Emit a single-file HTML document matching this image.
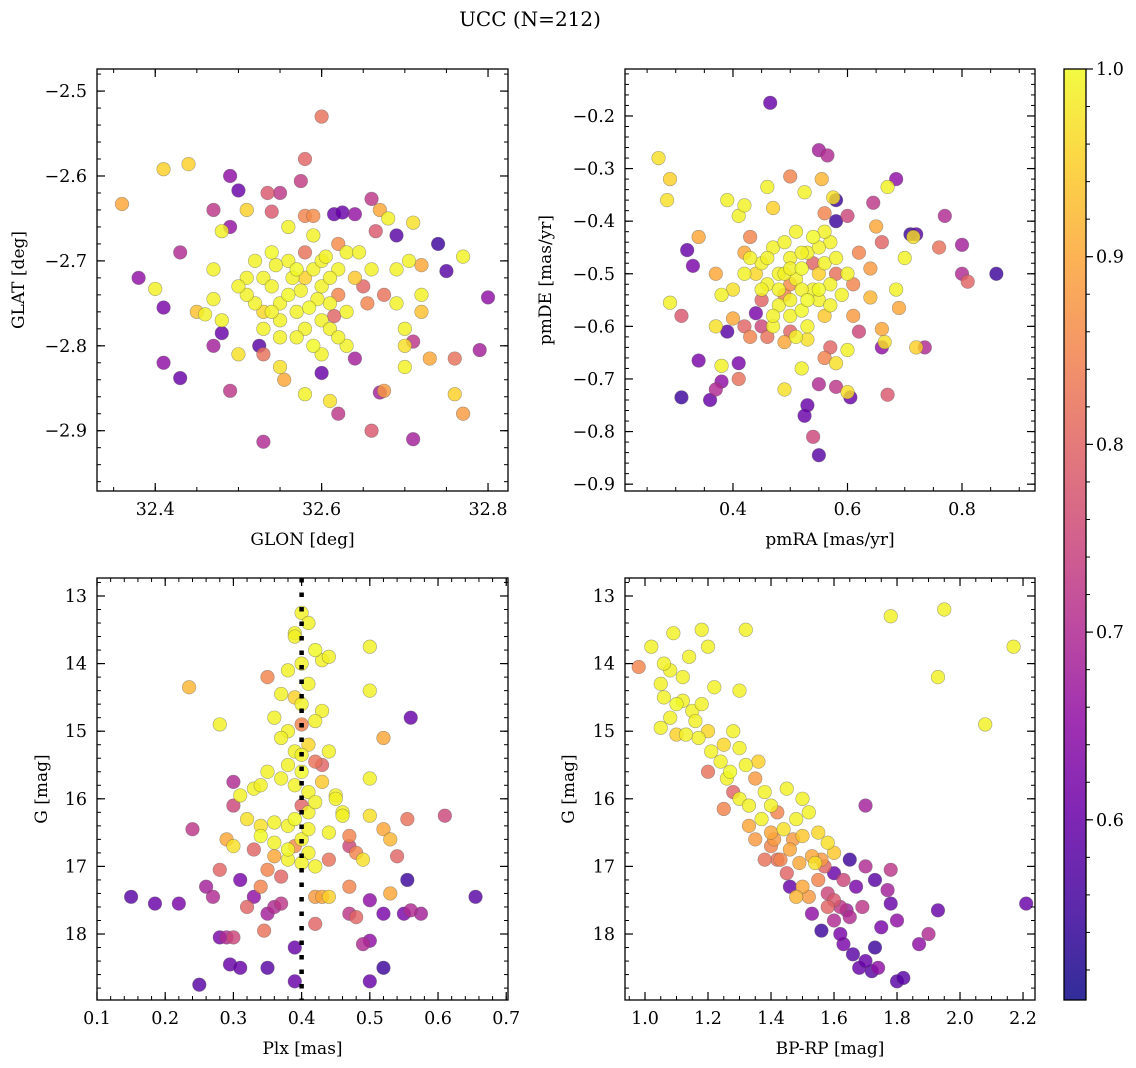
<!DOCTYPE html>
<html><head><meta charset="utf-8">
<style>
html,body{margin:0;padding:0;background:#fff;}
svg{display:block;font-family:"DejaVu Serif","Liberation Serif",serif;}
</style></head>
<body>
<svg id="fig" width="1136" height="1068" viewBox="0 0 1136 1068" xmlns="http://www.w3.org/2000/svg">
<text x="530" y="26" font-size="20" text-anchor="middle">UCC (N=212)</text>
<defs>
<linearGradient id="plasma" x1="0" y1="1" x2="0" y2="0">
<stop offset="0" stop-color="#0d0887"/><stop offset="0.1" stop-color="#41049d"/><stop offset="0.2" stop-color="#6a00a8"/><stop offset="0.3" stop-color="#8f0da4"/><stop offset="0.4" stop-color="#b12a90"/><stop offset="0.5" stop-color="#cc4778"/><stop offset="0.6" stop-color="#e16462"/><stop offset="0.7" stop-color="#f2844b"/><stop offset="0.8" stop-color="#fca636"/><stop offset="0.9" stop-color="#fcce25"/><stop offset="1" stop-color="#f0f921"/>
</linearGradient>
</defs>
</svg>
<script>
// ---- Panel 1: GLON vs GLAT [x, y, prob]
const glonGlat=[
[32.36,-2.633,0.9],[32.41,-2.592,0.95],[32.44,-2.586,0.95],[32.38,-2.72,0.65],[32.41,-2.82,0.65],[32.43,-2.838,0.6],[32.41,-2.755,0.62],[32.43,-2.69,0.7],[32.40,-2.733,0.99],
[32.49,-2.6,0.65],[32.5,-2.617,0.6],[32.47,-2.64,0.72],[32.49,-2.66,0.66],[32.535,-2.62,0.78],[32.55,-2.62,0.72],[32.575,-2.606,0.73],[32.58,-2.58,0.8],[32.6,-2.53,0.82],
[32.51,-2.64,0.95],[32.48,-2.665,0.99],[32.54,-2.642,0.78],[32.58,-2.647,0.85],[32.59,-2.647,0.86],[32.615,-2.645,0.6],[32.625,-2.643,0.6],[32.64,-2.645,0.66],
[32.66,-2.627,0.72],[32.665,-2.665,0.78],[32.67,-2.64,0.9],[32.69,-2.67,0.58],[32.71,-2.655,0.97],[32.68,-2.65,0.99],[32.74,-2.68,0.55],[32.75,-2.712,0.58],[32.77,-2.695,0.99],
[32.8,-2.743,0.65],[32.79,-2.805,0.68],[32.76,-2.815,0.82],[32.76,-2.857,0.95],[32.77,-2.88,0.88],[32.71,-2.91,0.68],[32.66,-2.9,0.78],[32.62,-2.88,0.72],[32.61,-2.865,0.97],
[32.53,-2.913,0.7],[32.49,-2.853,0.72],[32.5,-2.81,0.97],[32.47,-2.8,0.68],[32.48,-2.785,0.6],[32.525,-2.8,0.58],[32.53,-2.81,0.82],[32.55,-2.825,0.97],[32.555,-2.84,0.9],
[32.6,-2.832,0.6],[32.64,-2.815,0.68],[32.63,-2.8,0.99],[32.67,-2.855,0.68],[32.675,-2.853,0.88],[32.58,-2.857,0.99],[32.7,-2.78,0.99],[32.71,-2.795,0.72],[32.7,-2.8,0.97],
[32.72,-2.74,0.99],[32.72,-2.76,0.93],[32.7,-2.825,0.99],[32.73,-2.815,0.9],[32.69,-2.71,0.99],[32.72,-2.705,0.9],[32.705,-2.7,0.99],[32.675,-2.74,0.82],[32.66,-2.71,0.99],[32.69,-2.75,0.99],
[32.47,-2.71,0.99],[32.47,-2.745,0.99],[32.45,-2.76,0.93],[32.48,-2.77,0.99],[32.46,-2.763,0.99],
[32.52,-2.7,0.99],[32.53,-2.72,0.99],[32.54,-2.73,0.99],[32.55,-2.75,0.99],[32.56,-2.74,1.0],[32.57,-2.76,0.99],[32.58,-2.72,0.95],[32.59,-2.71,0.99],[32.6,-2.73,0.99],[32.61,-2.75,0.99],
[32.62,-2.74,0.85],[32.6,-2.77,0.99],[32.58,-2.78,0.99],[32.55,-2.77,0.99],[32.53,-2.76,0.96],[32.52,-2.75,0.99],[32.51,-2.74,0.99],[32.54,-2.69,1.0],[32.56,-2.7,0.99],[32.58,-2.69,0.82],
[32.6,-2.7,0.99],[32.62,-2.71,0.99],[32.63,-2.69,0.99],[32.64,-2.72,0.94],[32.65,-2.73,0.8],[32.63,-2.76,0.99],[32.61,-2.78,0.99],[32.59,-2.8,1.0],[32.57,-2.79,0.99],[32.55,-2.79,0.99],
[32.53,-2.78,0.99],[32.51,-2.72,0.99],[32.56,-2.66,0.99],[32.59,-2.67,0.99],[32.62,-2.68,0.86],[32.645,-2.69,0.99],[32.57,-2.71,1.0],[32.595,-2.745,0.99],[32.575,-2.735,0.99],[32.565,-2.72,0.99],
[32.545,-2.705,0.99],[32.605,-2.695,0.99],[32.615,-2.765,0.8],[32.62,-2.79,0.99],[32.54,-2.76,0.99],[32.5,-2.73,0.99],[32.655,-2.75,0.85],[32.6,-2.81,0.99],[32.61,-2.72,0.99],[32.585,-2.755,1.0]
];
// ---- Panel 2: pmRA vs pmDE
const pmraPmde=[
[0.465,-0.175,0.6],[0.55,-0.265,0.68],[0.565,-0.275,0.7],[0.27,-0.28,0.97],[0.29,-0.32,0.95],[0.285,-0.36,0.97],[0.5,-0.315,0.85],[0.555,-0.32,0.92],[0.58,-0.36,0.55],[0.575,-0.355,0.97],
[0.525,-0.345,0.99],[0.46,-0.335,0.99],[0.645,-0.365,0.72],[0.67,-0.335,0.99],[0.685,-0.32,0.65],[0.77,-0.39,0.7],[0.6,-0.39,0.75],[0.58,-0.4,0.55],[0.56,-0.385,0.85],[0.39,-0.36,0.99],
[0.41,-0.39,0.99],[0.42,-0.37,0.99],[0.47,-0.375,0.95],[0.32,-0.455,0.6],[0.33,-0.485,0.62],[0.34,-0.43,0.9],[0.29,-0.555,0.99],[0.31,-0.58,0.78],[0.31,-0.735,0.55],[0.34,-0.665,0.62],
[0.36,-0.74,0.6],[0.37,-0.72,0.7],[0.38,-0.705,0.65],[0.39,-0.61,0.58],[0.41,-0.67,0.62],[0.41,-0.7,0.82],[0.38,-0.675,0.99],[0.37,-0.6,0.97],[0.49,-0.72,0.97],[0.53,-0.75,0.6],
[0.525,-0.77,0.6],[0.54,-0.81,0.75],[0.55,-0.845,0.58],[0.55,-0.71,0.7],[0.58,-0.715,0.72],[0.6,-0.725,0.97],[0.605,-0.735,0.6],[0.67,-0.73,0.78],[0.66,-0.64,0.65],[0.735,-0.64,0.7],
[0.72,-0.64,0.95],[0.69,-0.565,0.9],[0.685,-0.53,0.99],[0.7,-0.47,0.99],[0.71,-0.425,0.55],[0.72,-0.425,0.58],[0.715,-0.43,0.97],[0.76,-0.45,0.82],[0.8,-0.445,0.68],[0.8,-0.5,0.7],
[0.81,-0.515,0.8],[0.86,-0.5,0.55],[0.66,-0.44,0.8],[0.65,-0.41,0.9],[0.64,-0.49,0.88],[0.64,-0.545,0.92],[0.62,-0.46,0.85],[0.62,-0.61,0.75],[0.66,-0.605,0.9],[0.665,-0.63,0.97],
[0.61,-0.58,0.88],[0.6,-0.645,0.99],[0.43,-0.43,0.85],[0.42,-0.46,0.9],[0.4,-0.53,0.97],[0.4,-0.585,0.9],[0.42,-0.6,0.8],[0.43,-0.62,0.85],[0.44,-0.575,0.62],[0.37,-0.5,0.9],
[0.38,-0.54,0.99],[0.45,-0.6,0.75],[0.46,-0.62,0.82],[0.49,-0.63,0.9],[0.5,-0.61,0.8],[0.53,-0.625,0.97],[0.56,-0.66,0.85],[0.52,-0.68,0.99],[0.58,-0.67,0.97],[0.57,-0.64,0.8],
[0.45,-0.48,0.99],[0.47,-0.45,0.99],[0.48,-0.5,0.99],[0.5,-0.47,0.99],[0.52,-0.49,1.0],[0.53,-0.46,0.99],[0.55,-0.5,0.95],[0.56,-0.48,0.99],[0.58,-0.47,0.99],[0.46,-0.52,0.99],
[0.49,-0.54,0.85],[0.51,-0.51,0.99],[0.54,-0.53,0.99],[0.57,-0.52,0.99],[0.44,-0.5,0.96],[0.48,-0.56,0.99],[0.5,-0.55,0.99],[0.52,-0.57,1.0],[0.55,-0.55,0.99],[0.58,-0.5,0.82],
[0.47,-0.6,0.99],[0.5,-0.58,0.99],[0.53,-0.6,0.99],[0.56,-0.58,0.94],[0.45,-0.55,0.8],[0.49,-0.44,0.99],[0.51,-0.42,0.99],[0.54,-0.43,1.0],[0.57,-0.44,0.99],[0.6,-0.5,0.99],
[0.43,-0.47,0.99],[0.46,-0.47,0.99],[0.52,-0.53,0.99],[0.55,-0.45,0.99],[0.5,-0.52,0.86],[0.48,-0.53,0.99],[0.53,-0.55,1.0],[0.59,-0.54,0.99],[0.42,-0.5,0.99],[0.56,-0.42,0.99],
[0.51,-0.62,0.99],[0.47,-0.58,0.99],[0.54,-0.48,0.8],[0.49,-0.5,0.99],[0.57,-0.56,0.99],[0.45,-0.53,0.99],[0.61,-0.52,0.85],[0.52,-0.46,0.99],[0.5,-0.49,0.99],[0.55,-0.53,1.0]
];
// ---- Panel 3: Plx vs G
const plxG=[
[0.15,17.45,0.58],[0.185,17.55,0.6],[0.22,17.55,0.62],[0.24,16.45,0.72],[0.235,14.35,0.92],[0.25,18.75,0.58],[0.26,17.3,0.68],[0.27,17.45,0.7],[0.28,17.05,0.8],[0.28,14.9,0.99],
[0.28,18.05,0.62],[0.29,18.05,0.7],[0.3,18.05,0.75],[0.295,18.45,0.6],[0.31,18.5,0.6],[0.35,18.5,0.58],[0.31,17.2,0.62],[0.32,17.6,0.8],[0.33,17.45,0.65],[0.35,17.7,0.68],
[0.36,17.6,0.7],[0.345,17.95,0.82],[0.37,17.55,0.72],[0.39,18.2,0.6],[0.39,18.7,0.6],[0.42,17.45,0.88],[0.42,17.85,0.8],[0.44,17.45,0.95],[0.47,17.3,0.85],[0.47,17.7,0.72],
[0.48,17.75,0.8],[0.49,18.15,0.7],[0.5,18.1,0.65],[0.5,18.7,0.6],[0.52,18.5,0.55],[0.52,17.7,0.62],[0.5,17.5,0.65],[0.53,17.4,0.9],[0.55,17.7,0.62],[0.56,17.65,0.7],
[0.575,17.7,0.68],[0.555,17.2,0.55],[0.56,14.8,0.6],[0.61,16.25,0.75],[0.655,17.45,0.58],[0.555,16.3,0.82],[0.54,16.85,0.8],[0.53,16.6,0.92],[0.52,16.45,0.9],[0.5,16.25,0.97],
[0.47,16.55,0.85],[0.48,16.8,0.85],[0.49,16.9,0.97],[0.46,16.2,0.99],[0.5,15.7,0.99],[0.52,15.1,0.9],[0.5,14.4,0.99],[0.5,13.75,0.99],[0.43,13.95,0.99],[0.44,13.9,0.99],
[0.47,16.7,0.75],[0.44,16.9,0.82],[0.43,17.45,0.9],[0.33,16.75,0.8],[0.32,16.3,0.97],[0.3,16.1,0.75],[0.3,15.75,0.7],[0.31,15.95,0.99],[0.33,15.85,0.99],[0.29,16.6,0.9],
[0.3,16.7,0.97],[0.34,16.4,0.97],[0.36,16.85,0.9],[0.35,17.05,0.85],[0.34,17.3,0.85],[0.37,17.15,0.8],[0.36,16.65,0.99],[0.34,15.8,0.99],
[0.4,13.25,0.99],[0.39,13.55,0.99],[0.41,13.4,0.99],[0.38,14.1,0.99],[0.42,13.8,1.0],[0.4,14.0,0.99],[0.39,14.5,0.95],[0.41,14.3,0.99],[0.37,14.45,0.99],[0.43,14.7,0.99],
[0.4,14.9,0.85],[0.38,15.0,0.99],[0.42,14.85,0.99],[0.39,15.3,0.99],[0.41,15.2,0.96],[0.36,14.8,0.99],[0.44,15.3,0.99],[0.4,15.6,1.0],[0.38,15.5,0.99],[0.42,15.45,0.82],
[0.39,15.8,0.99],[0.41,15.9,0.99],[0.37,15.7,0.99],[0.43,15.75,0.94],[0.4,16.1,0.8],[0.35,15.6,0.99],[0.45,15.95,0.99],[0.39,16.3,1.0],[0.41,16.2,0.99],[0.38,16.4,0.99],
[0.42,16.05,0.99],[0.4,16.6,0.99],[0.36,16.35,0.99],[0.44,16.5,0.99],[0.39,16.7,0.86],[0.41,16.8,0.99],[0.34,16.55,1.0],[0.46,16.25,0.99],[0.4,16.95,0.99],[0.38,16.9,0.99],
[0.42,17.0,0.99],[0.37,15.1,0.99],[0.43,15.5,0.8],[0.4,14.6,0.99],[0.39,13.6,0.99],[0.41,16.45,0.99],[0.35,14.2,0.85],[0.45,16.0,0.99],[0.4,15.35,0.99],[0.38,16.75,1.0]
];
// ---- Panel 4: BP-RP vs G
const bprpG=[
[1.02,13.75,0.99],[1.05,14.3,0.99],[1.06,14.5,0.99],[1.08,14.1,0.99],[1.1,14.6,1.0],[1.12,14.55,0.99],[1.1,15.05,0.95],[1.15,14.7,0.99],[1.18,14.6,0.99],[1.17,15.1,0.99],
[1.2,15.0,0.96],[1.22,14.35,0.99],[1.13,15.05,0.99],[1.08,14.8,0.99],[1.25,15.2,0.96],[1.28,15.0,0.99],[1.3,15.25,0.99],[1.27,15.6,1.0],[1.32,15.5,0.99],[1.35,15.7,0.88],
[1.3,16.0,0.99],[1.38,15.9,0.99],[1.4,16.1,0.99],[1.36,15.45,0.95],[1.42,16.2,0.85],[1.45,15.85,0.99],[1.4,16.5,0.9],[1.44,16.45,0.97],[1.48,16.3,0.99],[1.5,16.0,0.99],
[1.47,16.6,0.88],[1.52,16.2,0.99],[1.55,16.5,0.96],[1.43,16.9,0.85],[1.37,16.3,0.99],[1.33,16.1,0.99],[1.26,15.7,0.99],[1.21,15.3,0.99],[1.16,14.85,0.99],[1.12,14.2,0.99],
[1.05,14.95,0.99],[1.24,15.45,0.99],[1.46,16.75,0.9],[1.5,16.55,0.94],[1.53,16.85,0.9],[1.58,16.65,0.97],[1.56,16.9,0.88],[1.6,16.8,0.94],[1.49,16.95,0.9],[1.41,16.6,0.88],
[1.4,16.7,0.85],[1.42,16.9,0.82],[1.45,17.1,0.8],[1.5,17.3,0.9],[1.52,17.45,0.88],[1.55,17.2,0.85],[1.48,17.45,0.92],[1.58,17.4,0.75],[1.6,17.5,0.78],[1.62,17.6,0.72],
[1.6,17.8,0.7],[1.65,17.75,0.7],[1.63,18.15,0.62],[1.66,18.3,0.58],[1.68,18.5,0.6],[1.7,18.4,0.6],[1.72,18.55,0.58],[1.74,18.5,0.65],[1.73,18.2,0.55],[1.62,18.0,0.62],
[1.56,17.95,0.55],[1.53,17.7,0.65],[1.46,17.3,0.6],[1.35,16.6,0.88],[1.38,16.9,0.82],[1.65,16.9,0.55],[1.6,17.1,0.6],[1.67,17.3,0.62],[1.7,17.0,0.7],[1.63,17.2,0.75],
[1.57,17.0,0.8],[1.28,15.9,0.8],[1.2,15.6,0.82],[1.25,16.15,0.85],[1.33,16.4,0.9],[1.75,17.9,0.62],[1.69,17.6,0.72],[1.64,17.65,0.68],[1.58,17.6,0.8],[1.54,16.95,0.97],
[1.78,13.3,0.99],[1.95,13.2,0.99],[1.93,14.2,0.99],[2.17,13.75,0.99],[2.08,14.9,0.99],[0.98,14.05,0.85],[1.32,13.5,0.99],[1.93,17.65,0.6],[2.21,17.55,0.6],[1.87,18.15,0.65],
[1.9,18.0,0.7],[1.8,18.7,0.58],[1.82,18.65,0.58],[1.7,16.1,0.68],[1.78,17.05,0.72],[1.78,17.55,0.6],[1.77,17.35,0.68],[1.8,17.8,0.65],[1.73,17.2,0.58],[1.09,13.55,0.99],
[1.18,13.5,0.99],[1.2,13.75,0.99],[1.14,13.9,0.99],[1.3,14.4,0.99],[1.06,14.0,0.99]
];
// tick labels
const ticksGlon=[32.4,32.6,32.8], ticksGlat=[-2.5,-2.6,-2.7,-2.8,-2.9];
const ticksPmra=[0.4,0.6,0.8], ticksPmde=[-0.2,-0.3,-0.4,-0.5,-0.6,-0.7,-0.8,-0.9];
const ticksPlx=[0.1,0.2,0.3,0.4,0.5,0.6,0.7], ticksG=[13,14,15,16,17,18];
const ticksBprp=[1.0,1.2,1.4,1.6,1.8,2.0,2.2], ticksProb=[0.6,0.7,0.8,0.9,1.0];
const plxCut=0.4;

const NS="http://www.w3.org/2000/svg";
const svg=document.getElementById('fig');
function mk(tag,attrs,parent){const e=document.createElementNS(NS,tag);for(const k in attrs)e.setAttribute(k,attrs[k]);(parent||svg).appendChild(e);return e;}
const stops=[[0,[13,8,135]],[0.1,[65,4,157]],[0.2,[106,0,168]],[0.3,[143,13,164]],[0.4,[177,42,144]],[0.5,[204,71,120]],[0.6,[225,100,98]],[0.7,[242,132,75]],[0.8,[252,166,54]],[0.9,[252,206,37]],[1,[240,249,33]]];
const pMin=0.504,pMax=1.0;
function plasma(p){let t=Math.max(0,Math.min(1,(p-pMin)/(pMax-pMin)));for(let i=0;i<stops.length-1;i++){const a=stops[i],b=stops[i+1];if(t<=b[0]){const f=(t-a[0])/(b[0]-a[0]);const c=a[1].map((v,j)=>Math.round(v+(b[1][j]-v)*f));return `rgb(${c[0]},${c[1]},${c[2]})`;}}return 'rgb(240,249,33)';}
function fmt(v,d){return (v<0?'\u2212':'')+Math.abs(v).toFixed(d);}

function panel(cfg){
  const g=mk('g',{});
  
  
  const L=cfg.box[0],T=cfg.box[1],R=cfg.box[2],B=cfg.box[3];
  const sx=v=>L+(v-cfg.xr[0])/(cfg.xr[1]-cfg.xr[0])*(R-L);
  const sy=cfg.invert? v=>T+(v-cfg.yr[0])/(cfg.yr[1]-cfg.yr[0])*(B-T) : v=>B-(v-cfg.yr[0])/(cfg.yr[1]-cfg.yr[0])*(B-T);
  const clip='clip-'+cfg.name;
  const cp=mk('clipPath',{id:clip},g);mk('rect',{x:L,y:T,width:R-L,height:B-T},cp);
  const pts=mk('g',{'clip-path':`url(#${clip})`},g);
  
  
  const sorted=cfg.data.slice().sort((a,b)=>a[2]-b[2]);
  sorted.forEach(d=>{
    const c=mk('circle',{cx:sx(d[0]),cy:sy(d[1]),r:6.8,fill:plasma(d[2]),'fill-opacity':0.82,stroke:'#555','stroke-opacity':0.5,'stroke-width':0.6},pts);
    
    
  });
  if(cfg.vline!==undefined){
    const l=mk('line',{x1:sx(cfg.vline),x2:sx(cfg.vline),y1:T,y2:B,stroke:'#000','stroke-width':4.5,'stroke-dasharray':'4.5 10'},g);
    
    
  }
  const fr=mk('rect',{x:L,y:T,width:R-L,height:B-T,fill:'none',stroke:'#000','stroke-width':1.3},g);
  
  
  const mx=cfg.xminor,my=cfg.yminor;
  for(let v=Math.ceil(cfg.xr[0]/mx)*mx;v<=cfg.xr[1];v+=mx){const x=sx(v);mk('line',{x1:x,x2:x,y1:B,y2:B-4,stroke:'#000','stroke-width':1},g);mk('line',{x1:x,x2:x,y1:T,y2:T+4,stroke:'#000','stroke-width':1},g);}
  const ylo=Math.min(...cfg.yr),yhi=Math.max(...cfg.yr);
  for(let v=Math.ceil(ylo/my)*my;v<=yhi;v+=my){const y=sy(v);mk('line',{x1:L,x2:L+4,y1:y,y2:y,stroke:'#000','stroke-width':1},g);mk('line',{x1:R,x2:R-4,y1:y,y2:y,stroke:'#000','stroke-width':1},g);}
  cfg.xt.forEach(v=>{const x=sx(v);mk('line',{x1:x,x2:x,y1:B,y2:B-8,stroke:'#000','stroke-width':1.2},g);mk('line',{x1:x,x2:x,y1:T,y2:T+8,stroke:'#000','stroke-width':1.2},g);
    const t=mk('text',{x:x,y:B+24,'font-size':17.5,'text-anchor':'middle'},g);t.textContent=fmt(v,cfg.xd);
    
    });
  cfg.yt.forEach(v=>{const y=sy(v);mk('line',{x1:L,x2:L+8,y1:y,y2:y,stroke:'#000','stroke-width':1.2},g);mk('line',{x1:R,x2:R-8,y1:y,y2:y,stroke:'#000','stroke-width':1.2},g);
    const t=mk('text',{x:L-10,y:y+6,'font-size':17.5,'text-anchor':'end'},g);t.textContent=fmt(v,cfg.yd);
    
    });
  const xl=mk('text',{x:(L+R)/2,y:B+54,'font-size':17,'text-anchor':'middle'},g);xl.textContent=cfg.xlabel;
  
  
  const yx=cfg.ylx,yy=(T+B)/2;
  const yl=mk('text',{x:yx,y:yy,'font-size':17,'text-anchor':'middle',transform:`rotate(-90 ${yx} ${yy})`},g);yl.textContent=cfg.ylabel;
  
  
}
panel({name:'glon-glat-panel',box:[97,69,508,491],xr:[32.330,32.824],yr:[-2.971,-2.474],data:glonGlat,xt:ticksGlon,yt:ticksGlat,xd:1,yd:1,xminor:0.05,yminor:0.02,xlabel:'GLON [deg]',ylabel:'GLAT [deg]',ylx:24});
panel({name:'pm-panel',box:[625,69,1035,491],xr:[0.2114,0.9275],yr:[-0.913,-0.1107],data:pmraPmde,xt:ticksPmra,yt:ticksPmde,xd:1,yd:1,xminor:0.05,yminor:0.02,xlabel:'pmRA [mas/yr]',ylabel:'pmDE [mas/yr]',ylx:551});
panel({name:'plx-g-panel',box:[97,578,508,1000],xr:[0.1,0.7026],yr:[12.734,18.976],invert:true,data:plxG,xt:ticksPlx,yt:ticksG,xd:1,yd:0,xminor:0.02,yminor:0.2,xlabel:'Plx [mas]',ylabel:'G [mag]',ylx:47,vline:plxCut});
panel({name:'cmd-panel',box:[625,578,1035,1000],xr:[0.9365,2.238],yr:[12.734,18.976],invert:true,data:bprpG,xt:ticksBprp,yt:ticksG,xd:1,yd:0,xminor:0.05,yminor:0.2,xlabel:'BP-RP [mag]',ylabel:'G [mag]',ylx:574});

const cb=mk('g',{});


const cT=69,cB=1000,cL=1064,cR=1086;
const cy=v=>cB-(v-pMin)/(pMax-pMin)*(cB-cT);
mk('rect',{x:cL,y:cT,width:cR-cL,height:cB-cT,fill:'url(#plasma)','fill-opacity':0.85},cb);
mk('rect',{x:cL,y:cT,width:cR-cL,height:cB-cT,fill:'none',stroke:'#000','stroke-width':1.3},cb);
for(let v=0.52;v<=1.0001;v+=0.02){mk('line',{x1:cR,x2:cR+4,y1:cy(v),y2:cy(v),stroke:'#000','stroke-width':1},cb);}
ticksProb.forEach(v=>{const y=cy(v);mk('line',{x1:cR,x2:cR+7,y1:y,y2:y,stroke:'#000','stroke-width':1.2},cb);
  const t=mk('text',{x:cR+10,y:y+6,'font-size':17.5},cb);t.textContent=v.toFixed(1);
  
  });
</script>
</body></html>
